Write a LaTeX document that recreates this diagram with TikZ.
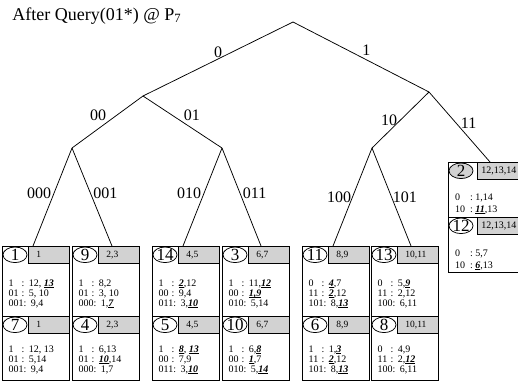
\documentclass[tikz,border=0pt]{standalone}
\usepackage{fontspec}
\setmainfont{Liberation Serif}
\usetikzlibrary{calc,shapes.geometric}

\newlength{\keywd}
\newlength{\keygap}
\setlength{\keywd}{13pt}
\setlength{\keygap}{4.5pt}
\newsavebox{\hitbox}
\newsavebox{\keybox}
\newcommand{\hit}[1]{\sbox{\hitbox}{\textbf{\textit{#1}}}%
  \rlap{\rule[-1.1pt]{\wd\hitbox}{0.6pt}}\usebox{\hitbox}}
\newcommand{\tabrow}[2]{\sbox{\keybox}{#1}%
  \ifdim\wd\keybox<\keywd\makebox[\keywd][l]{#1}\else\usebox{\keybox}\fi
  :\hspace{\keygap}#2}
% one peer cell: [id options] name, x, y, height, id, range, row offset, rows
\newcommand{\peercell}[9][]{%
  \node[cellbox, minimum height=#5] (#2) at (#3,#4) {};
  \node[peerid, #1] (#2-id) at ($(#2.north west)+(13,8.8)$) {#6};
  \node[keyrange] (#2-rg) at (#2.north east) {#7};
  \node[rows] (#2-rows) at ($(#2.north west)+(6.3,#8)$) {#9};
}

\tikzset{
  title/.style={anchor=base west, inner sep=0pt, font=\fontsize{18}{18}\selectfont},
  lbl/.style={inner sep=1pt, font=\fontsize{16}{16}\selectfont},
  cellbox/.style={draw, anchor=north west, inner sep=0pt, minimum width=67pt},
  peerid/.style={draw, ellipse, fill=white, inner sep=0pt, text height=11pt, text depth=0pt,
    minimum width=24pt, minimum height=15.5pt, font=\fontsize{17}{17}\selectfont},
  keyrange/.style={draw, fill=gray!35, anchor=north east, minimum height=16.5pt,
    inner xsep=8pt, inner ysep=0pt, text width=25pt, align=left,
    font=\fontsize{9.5}{9.5}\selectfont},
  rows/.style={anchor=north west, inner sep=0pt, align=left,
    font=\fontsize{10}{10}\selectfont}
}

\begin{document}
\begin{tikzpicture}[x=1pt, y=-1pt, line width=0.75pt]
  \useasboundingbox (0,0) rectangle (518,383);
  \node[title] (title) at (12,20) {After Query(01*) @ P\textsubscript{7}};

  % trie
  \coordinate (root) at (293,22);
  \coordinate (p0) at (143,96);
  \coordinate (p1) at (429,92);
  \coordinate (p00) at (72,148);
  \coordinate (p01) at (222,148);
  \coordinate (p10) at (372,148);

  % peers
  \peercell{c1}{2}{246}{70}{1}{1}{33.2}{\tabrow{1}{12, \hit{13}}\\\tabrow{01}{5, 10}\\\tabrow{001}{9,4}}
  \peercell{c7}{2}{316}{64}{7}{1}{29}{\tabrow{1}{12, 13}\\\tabrow{01}{5,14}\\\tabrow{001}{9,4}}
  \peercell{c9}{72}{246}{70}{9}{2,3}{33.2}{\tabrow{1}{8,2}\\\tabrow{01}{3, 10}\\\tabrow{000}{1,\hit{7}}}
  \peercell{c4}{72}{316}{64}{4}{2,3}{29}{\tabrow{1}{6,13}\\\tabrow{01}{\hit{10},14}\\\tabrow{000}{1,7}}
  \peercell{c14}{152}{246}{70}{14}{4,5}{33.2}{\tabrow{1}{\hit{2},12}\\\tabrow{00}{9,4}\\\tabrow{011}{3,\hit{10}}}
  \peercell{c5}{152}{316}{64}{5}{4,5}{29}{\tabrow{1}{\hit{8}, \hit{13}}\\\tabrow{00}{7,9}\\\tabrow{011}{3,\hit{10}}}
  \peercell{c3}{222}{246}{70}{3}{6,7}{33.2}{\tabrow{1}{11,\hit{12}}\\\tabrow{00}{\hit{1,9}}\\\tabrow{010}{5,14}}
  \peercell{c10}{222}{316}{64}{10}{6,7}{29}{\tabrow{1}{6,\hit{8}}\\\tabrow{00}{\hit{1},7}\\\tabrow{010}{5,\hit{14}}}
  \peercell{c11}{302}{246}{70}{11}{8,9}{33.2}{\tabrow{0}{\hit{4},7}\\\tabrow{11}{\hit{2},12}\\\tabrow{101}{8,\hit{13}}}
  \peercell{c6}{302}{316}{64}{6}{8,9}{29}{\tabrow{1}{1,\hit{3}}\\\tabrow{11}{\hit{2},12}\\\tabrow{101}{8,\hit{13}}}
  \peercell{c13}{371}{246}{70}{13}{10,11}{33.2}{\tabrow{0}{5,\hit{9}}\\\tabrow{11}{2,12}\\\tabrow{100}{6,11}}
  \peercell{c8}{371}{316}{64}{8}{10,11}{29}{\tabrow{0}{4,9}\\\tabrow{11}{2,\hit{12}}\\\tabrow{100}{6,11}}
  \begin{scope}[cellbox/.append style={minimum width=80pt},
      keyrange/.append style={inner xsep=4pt, text width=43pt, font=\fontsize{10}{10}\selectfont},
      rows/.append style={xshift=0.4pt, font=\fontsize{10}{11.6}\selectfont}]
    \setlength{\keywd}{15pt}
    \setlength{\keygap}{2.5pt}
    \peercell[fill=gray!35]{c2}{448}{162}{55}{2}{12,13,14}{31.4}{\tabrow{0}{1,14}\\\tabrow{10}{\hit{11},13}}
    \peercell{c12}{448}{217}{55}{12}{12,13,14}{32.4}{\tabrow{0}{5,7}\\\tabrow{10}{\hit{6},13}}
  \end{scope}

  % leaf ends
  \coordinate (l000) at ($(c1.north west)+(31,0)$);
  \coordinate (l001) at ($(c9.north west)+(40,0)$);
  \coordinate (l010) at ($(c14.north west)+(31,0)$);
  \coordinate (l011) at ($(c3.north west)+(39,0)$);
  \coordinate (l100) at ($(c11.north west)+(31,0)$);
  \coordinate (l101) at ($(c13.north west)+(40,0)$);
  \coordinate (l11) at ($(c2.north west)+(42,0)$);

  \draw (root) -- node[lbl, above] {0} (p0);
  \draw (root) -- node[lbl, above right] {1} (p1);
  \draw (p0) -- node[lbl, above left] {00} (p00);
  \draw (p0) -- node[lbl, above right] {01} (p01);
  \draw (p1) -- node[lbl, left, inner sep=3pt] {10} (p10);
  \draw (p1) -- node[lbl, right, yshift=4pt] {11} (l11);
  \draw (p00) -- node[lbl, left, yshift=4pt] {000} (l000);
  \draw (p00) -- node[lbl, right, yshift=4pt] {001} (l001);
  \draw (p01) -- node[lbl, left, yshift=4pt] {010} (l010);
  \draw (p01) -- node[lbl, right, yshift=4pt] {011} (l011);
  \draw (p10) -- node[lbl, left] {100} (l100);
  \draw (p10) -- node[lbl, right] {101} (l101);
\end{tikzpicture}
\end{document}
